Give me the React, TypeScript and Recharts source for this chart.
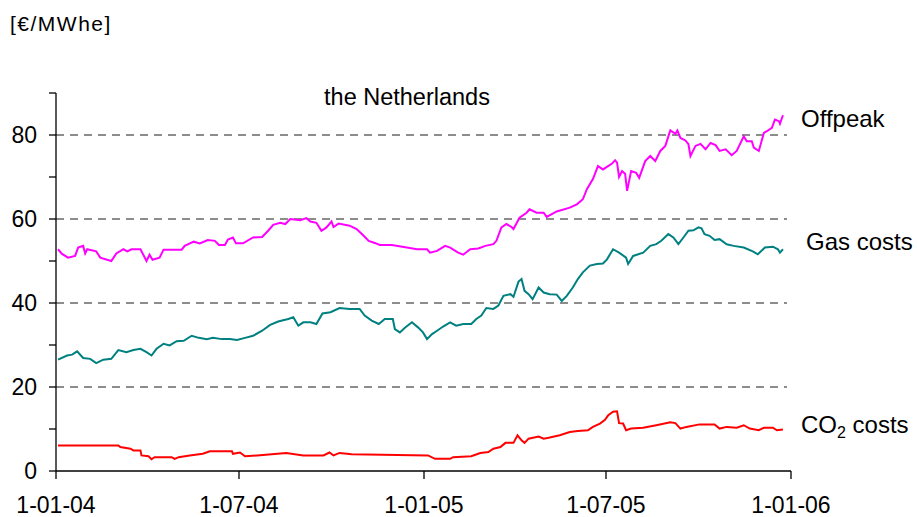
import { Line, LineChart, ReferenceLine, XAxis, YAxis } from 'recharts';

const FONT = '"Liberation Sans", Arial, sans-serif';
const MAGENTA = '#ff00ff';
const TEAL = '#008080';
const RED = '#ff0000';

const X_TICK_DATES = ['2004-01-01', '2004-07-01', '2005-01-01', '2005-07-01', '2006-01-01'];
const X_TICK_LABELS = ['1-01-04', '1-07-04', '1-01-05', '1-07-05', '1-01-06'];
const Y_TICKS = [0, 10, 20, 30, 40, 50, 60, 70, 80, 90];
const GRID_VALUES = [20, 40, 60, 80];
const GRID_END = '2005-12-28';

const OFFPEAK: [string, number][] = [
  ['2004-01-03', 52.8], ['2004-01-07', 51.7], ['2004-01-13', 50.8], ['2004-01-20', 51.2],
  ['2004-01-23', 53.2], ['2004-01-28', 53.6], ['2004-01-30', 51.8], ['2004-02-01', 52.8],
  ['2004-02-10', 52.3], ['2004-02-14', 50.8], ['2004-02-25', 50.0], ['2004-03-01', 51.8],
  ['2004-03-08', 52.8], ['2004-03-12', 52.3], ['2004-03-16', 52.8], ['2004-03-25', 52.8],
  ['2004-03-31', 50.0], ['2004-04-03', 51.5], ['2004-04-06', 50.3], ['2004-04-13', 50.8],
  ['2004-04-17', 52.7], ['2004-05-05', 52.7], ['2004-05-08', 53.6], ['2004-05-17', 54.6],
  ['2004-05-23', 54.2], ['2004-05-31', 55.0], ['2004-06-07', 54.8], ['2004-06-11', 53.8],
  ['2004-06-17', 53.8], ['2004-06-20', 55.1], ['2004-06-25', 55.6], ['2004-06-28', 54.2],
  ['2004-07-05', 54.2], ['2004-07-15', 55.6], ['2004-07-24', 55.7], ['2004-07-30', 57.2],
  ['2004-08-04', 58.6], ['2004-08-11', 59.1], ['2004-08-16', 58.8], ['2004-08-21', 60.0],
  ['2004-08-31', 59.7], ['2004-09-06', 60.2], ['2004-09-10', 59.4], ['2004-09-16', 59.1],
  ['2004-09-21', 57.2], ['2004-09-26', 58.0], ['2004-10-01', 59.4], ['2004-10-03', 58.1],
  ['2004-10-08', 58.9], ['2004-10-19', 58.4], ['2004-10-26', 57.6], ['2004-11-02', 56.0],
  ['2004-11-07', 54.8], ['2004-11-13', 54.3], ['2004-11-18', 53.8], ['2004-11-30', 53.8],
  ['2004-12-15', 53.2], ['2004-12-25', 52.8], ['2005-01-04', 52.8], ['2005-01-07', 52.0],
  ['2005-01-14', 52.4], ['2005-01-22', 53.6], ['2005-01-27', 53.2], ['2005-02-04', 52.0],
  ['2005-02-09', 51.5], ['2005-02-16', 52.8], ['2005-02-24', 53.0], ['2005-03-03', 53.6],
  ['2005-03-11', 54.0], ['2005-03-14', 54.8], ['2005-03-19', 58.0], ['2005-03-24', 58.8],
  ['2005-03-29', 58.1], ['2005-03-31', 57.6], ['2005-04-06', 60.3], ['2005-04-13', 61.5],
  ['2005-04-16', 62.3], ['2005-04-23', 61.5], ['2005-04-30', 61.5], ['2005-05-03', 60.5],
  ['2005-05-13', 61.8], ['2005-05-26', 62.7], ['2005-06-02', 63.5], ['2005-06-08', 64.7],
  ['2005-06-12', 67.1], ['2005-06-18', 69.5], ['2005-06-23', 72.6], ['2005-06-28', 71.8],
  ['2005-07-07', 73.2], ['2005-07-10', 74.0], ['2005-07-12', 73.4], ['2005-07-14', 70.0],
  ['2005-07-17', 71.4], ['2005-07-20', 70.8], ['2005-07-22', 66.7], ['2005-07-26', 71.4],
  ['2005-07-31', 71.0], ['2005-08-03', 69.8], ['2005-08-09', 73.8], ['2005-08-14', 75.0],
  ['2005-08-19', 73.8], ['2005-08-24', 76.2], ['2005-08-29', 77.4], ['2005-09-03', 81.1],
  ['2005-09-08', 80.3], ['2005-09-10', 81.1], ['2005-09-13', 79.3], ['2005-09-18', 78.7],
  ['2005-09-21', 77.8], ['2005-09-23', 75.0], ['2005-09-28', 77.4], ['2005-10-03', 77.9],
  ['2005-10-08', 76.6], ['2005-10-13', 78.1], ['2005-10-18', 77.6], ['2005-10-22', 76.2],
  ['2005-10-28', 76.6], ['2005-11-03', 75.2], ['2005-11-08', 76.2], ['2005-11-15', 79.7],
  ['2005-11-18', 78.5], ['2005-11-23', 78.5], ['2005-11-25', 77.0], ['2005-11-30', 76.2],
  ['2005-12-05', 80.5], ['2005-12-08', 80.9], ['2005-12-13', 81.7], ['2005-12-16', 83.7],
  ['2005-12-20', 83.3], ['2005-12-21', 82.7], ['2005-12-24', 84.7],
];

const GAS: [string, number][] = [
  ['2004-01-03', 26.5], ['2004-01-12', 27.5], ['2004-01-17', 27.7], ['2004-01-22', 28.5],
  ['2004-01-28', 26.9], ['2004-02-04', 26.7], ['2004-02-10', 25.7], ['2004-02-17', 26.5],
  ['2004-02-25', 26.7], ['2004-03-03', 28.8], ['2004-03-11', 28.3], ['2004-03-18', 28.8],
  ['2004-03-25', 29.1], ['2004-03-31', 28.3], ['2004-04-05', 27.5], ['2004-04-10', 29.1],
  ['2004-04-17', 30.3], ['2004-04-23', 29.9], ['2004-04-30', 30.9], ['2004-05-07', 31.0],
  ['2004-05-15', 32.2], ['2004-05-22', 31.7], ['2004-05-30', 31.4], ['2004-06-05', 31.7],
  ['2004-06-14', 31.4], ['2004-06-22', 31.4], ['2004-06-29', 31.2], ['2004-07-07', 31.7],
  ['2004-07-15', 32.2], ['2004-07-24', 33.4], ['2004-08-01', 34.8], ['2004-08-09', 35.6],
  ['2004-08-19', 36.2], ['2004-08-24', 36.6], ['2004-08-29', 34.6], ['2004-09-03', 35.4],
  ['2004-09-10', 35.4], ['2004-09-16', 35.0], ['2004-09-22', 37.5], ['2004-09-30', 37.8],
  ['2004-10-09', 38.8], ['2004-10-19', 38.6], ['2004-10-29', 38.6], ['2004-11-03', 37.0],
  ['2004-11-10', 35.8], ['2004-11-17', 35.0], ['2004-11-23', 36.2], ['2004-12-01', 36.2],
  ['2004-12-03', 33.8], ['2004-12-08', 33.0], ['2004-12-13', 34.1], ['2004-12-20', 35.4],
  ['2004-12-26', 34.2], ['2004-12-31', 33.0], ['2005-01-04', 31.4], ['2005-01-09', 32.6],
  ['2005-01-14', 33.4], ['2005-01-20', 34.4], ['2005-01-27', 35.4], ['2005-02-02', 34.6],
  ['2005-02-09', 35.0], ['2005-02-17', 35.0], ['2005-02-22', 36.2], ['2005-02-27', 37.0],
  ['2005-03-04', 38.8], ['2005-03-11', 38.6], ['2005-03-16', 39.4], ['2005-03-21', 41.7],
  ['2005-03-28', 42.1], ['2005-03-31', 41.5], ['2005-04-05', 45.1], ['2005-04-08', 45.7],
  ['2005-04-11', 42.9], ['2005-04-15', 42.1], ['2005-04-19', 40.9], ['2005-04-25', 43.7],
  ['2005-04-30', 42.5], ['2005-05-06', 42.1], ['2005-05-13', 42.0], ['2005-05-18', 40.5],
  ['2005-05-23', 41.7], ['2005-05-29', 43.7], ['2005-06-03', 45.7], ['2005-06-08', 47.3],
  ['2005-06-15', 48.9], ['2005-06-22', 49.3], ['2005-06-28', 49.4], ['2005-07-02', 50.4],
  ['2005-07-08', 52.8], ['2005-07-14', 52.0], ['2005-07-21', 50.8], ['2005-07-23', 49.3],
  ['2005-07-28', 51.2], ['2005-08-07', 52.0], ['2005-08-14', 53.6], ['2005-08-20', 54.0],
  ['2005-08-25', 54.8], ['2005-09-01', 56.4], ['2005-09-06', 55.6], ['2005-09-11', 54.0],
  ['2005-09-16', 55.6], ['2005-09-21', 57.2], ['2005-09-26', 57.3], ['2005-10-01', 58.0],
  ['2005-10-04', 57.8], ['2005-10-07', 56.4], ['2005-10-12', 56.0], ['2005-10-17', 55.0],
  ['2005-10-22', 55.2], ['2005-10-29', 54.0], ['2005-11-05', 53.6], ['2005-11-15', 53.2],
  ['2005-11-24', 52.3], ['2005-11-29', 51.6], ['2005-12-06', 53.2], ['2005-12-14', 53.4],
  ['2005-12-19', 52.8], ['2005-12-21', 52.0], ['2005-12-24', 52.8],
];

const CO2: [string, number][] = [
  ['2004-01-03', 6.1], ['2004-03-03', 6.1], ['2004-03-05', 5.7], ['2004-03-15', 5.3],
  ['2004-03-18', 4.9], ['2004-03-25', 4.9], ['2004-03-26', 3.7], ['2004-04-02', 3.5],
  ['2004-04-05', 2.8], ['2004-04-08', 3.3], ['2004-04-25', 3.3], ['2004-04-28', 2.9],
  ['2004-05-02', 3.3], ['2004-05-13', 3.7], ['2004-05-26', 4.1], ['2004-06-02', 4.7],
  ['2004-06-24', 4.7], ['2004-06-25', 4.1], ['2004-07-02', 4.4], ['2004-07-07', 3.5],
  ['2004-07-19', 3.7], ['2004-08-17', 4.3], ['2004-09-03', 3.7], ['2004-09-23', 3.7],
  ['2004-09-29', 4.4], ['2004-10-03', 3.7], ['2004-10-09', 4.3], ['2004-10-21', 4.0],
  ['2005-01-05', 3.7], ['2005-01-12', 2.9], ['2005-01-27', 2.9], ['2005-01-30', 3.3],
  ['2005-02-17', 3.5], ['2005-02-26', 4.3], ['2005-03-06', 4.5], ['2005-03-11', 5.3],
  ['2005-03-18', 5.7], ['2005-03-23', 6.7], ['2005-03-31', 6.7], ['2005-04-04', 8.5],
  ['2005-04-08', 7.3], ['2005-04-11', 6.7], ['2005-04-15', 7.7], ['2005-04-25', 8.2],
  ['2005-04-30', 7.7], ['2005-05-05', 7.9], ['2005-05-16', 8.5], ['2005-05-26', 9.3],
  ['2005-06-03', 9.5], ['2005-06-13', 9.7], ['2005-06-18', 10.5], ['2005-06-25', 11.3],
  ['2005-06-30', 12.2], ['2005-07-03', 13.2], ['2005-07-08', 14.1], ['2005-07-12', 14.2],
  ['2005-07-14', 11.4], ['2005-07-18', 11.3], ['2005-07-21', 9.7], ['2005-07-26', 10.1],
  ['2005-08-07', 10.3], ['2005-08-20', 10.9], ['2005-09-03', 11.6], ['2005-09-08', 11.4],
  ['2005-09-13', 10.1], ['2005-09-19', 10.5], ['2005-10-02', 11.1], ['2005-10-17', 11.1],
  ['2005-10-22', 10.1], ['2005-10-29', 10.5], ['2005-11-08', 10.3], ['2005-11-15', 10.9],
  ['2005-11-21', 10.1], ['2005-11-30', 9.7], ['2005-12-05', 10.3], ['2005-12-14', 10.3],
  ['2005-12-18', 9.7], ['2005-12-24', 9.9],
];

const ts = (d: string) => Date.parse(d);
const toPoints = (rows: [string, number][]) => rows.map(([d, v]) => ({ t: ts(d), v }));

const xTicks = X_TICK_DATES.map(ts);

export default function App() {
  const tickStyle = { fill: '#000', fontSize: 23, fontFamily: FONT };
  return (
    <div style={{ position: 'absolute', left: 0, top: 0, width: 917, height: 517, background: '#fff' }}>
      <LineChart width={917} height={517} margin={{ top: 93, right: 126, bottom: 0, left: 0 }}>
        <XAxis
          type="number"
          dataKey="t"
          domain={[xTicks[0], xTicks[xTicks.length - 1]]}
          ticks={xTicks}
          interval={0}
          tickFormatter={(_v, i) => X_TICK_LABELS[i]}
          height={46}
          tickSize={8}
          tickMargin={18}
          stroke="#000"
          strokeWidth={1.3}
          tick={tickStyle}
        />
        <YAxis
          type="number"
          domain={[0, 90]}
          ticks={Y_TICKS}
          interval={0}
          tickFormatter={(v: number) => (v % 20 === 0 && v < 90 ? String(v) : '')}
          width={56}
          tickSize={7}
          tickMargin={12}
          stroke="#000"
          strokeWidth={1.3}
          tick={tickStyle}
        />
        {GRID_VALUES.map((y) => (
          <ReferenceLine
            key={y}
            segment={[{ x: xTicks[0], y }, { x: ts(GRID_END), y }]}
            stroke="#1a1a1a"
            strokeDasharray="8 6"
          />
        ))}
        <Line data={toPoints(OFFPEAK)} dataKey="v" stroke={MAGENTA} strokeWidth={2} dot={false} isAnimationActive={false} />
        <Line data={toPoints(GAS)} dataKey="v" stroke={TEAL} strokeWidth={2} dot={false} isAnimationActive={false} />
        <Line data={toPoints(CO2)} dataKey="v" stroke={RED} strokeWidth={2} dot={false} isAnimationActive={false} />
      </LineChart>
      <svg
        width={917}
        height={517}
        style={{ position: 'absolute', left: 0, top: 0, pointerEvents: 'none' }}
        fontFamily={FONT}
      >
        <text x={10} y={31} fontSize={21} letterSpacing={1.5}>[€/MWhe]</text>
        <text x={407} y={105} fontSize={23.5} textAnchor="middle">the Netherlands</text>
        <text x={801} y={127} fontSize={24}>Offpeak</text>
        <text x={806} y={250} fontSize={24}>Gas costs</text>
        <text x={801} y={433} fontSize={24}>
          CO<tspan fontSize={16} dy={5}>2</tspan>
          <tspan dy={-5}> costs</tspan>
        </text>
      </svg>
    </div>
  );
}
